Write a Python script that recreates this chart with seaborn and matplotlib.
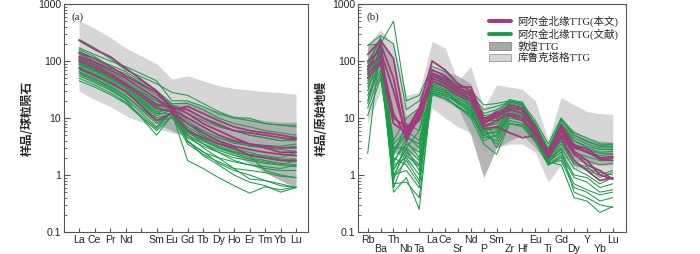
import numpy as np
import pandas as pd
import matplotlib
matplotlib.use("Agg")
import matplotlib.pyplot as plt
import seaborn as sns
from matplotlib.lines import Line2D
from matplotlib.patches import Patch

sns.set_style("ticks")
plt.rcParams['font.family'] = ['Liberation Sans', 'Noto Sans CJK SC']

# 稀土元素 (Pm 无数据)
ree = ['La', 'Ce', 'Pr', 'Nd', 'Pm', 'Sm', 'Eu', 'Gd', 'Tb', 'Dy', 'Ho', 'Er', 'Tm', 'Yb', 'Lu']
ree_used = ['La', 'Ce', 'Pr', 'Nd', 'Sm', 'Eu', 'Gd', 'Tb', 'Dy', 'Ho', 'Er', 'Tm', 'Yb', 'Lu']

# 库鲁克塔格 / 敦煌 包络 (REE)
kur_ree_hi = [500, 380, 260, 170, 90, 48, 55, 45, 37, 33, 31, 29, 28, 26]
kur_ree_lo = [30, 21, 16, 11, 6.5, 5.5, 5, 4, 3.2, 2.6, 2.2, 1.8, 1.6, 1.5]
dun_ree_hi = [130, 100, 75, 55, 28, 18, 20, 16, 13, 11, 10, 9, 8.5, 8.5]
dun_ree_lo = [55, 40, 30, 20, 8, 6, 4.5, 3.5, 2.8, 2.2, 1.6, 1.1, 0.8, 0.6]

ree_this = [
    [230, 160, 120, 75, 30, 15, 14, 10, 7.5, 6, 5.5, 5, 4.5, 4.2],
    [140, 110, 80, 55, 28, 14, 16, 12, 9, 7, 6, 5.5, 5, 4.5],
    [120, 95, 70, 50, 22, 14, 10, 7, 5, 4, 3.5, 3.2, 3, 3],
    [100, 75, 55, 38, 15, 13, 8, 5.5, 4, 3.2, 2.8, 2.5, 2.3, 2.2],
    [75, 55, 42, 30, 9, 12, 6, 4.5, 3.5, 3, 2.2, 2, 1.8, 1.8],
    [110, 85, 60, 40, 17, 16, 12, 8, 6, 4.5, 3.5, 3, 2.5, 2.5],
]
ree_lit = [
    [240, 170, 110, 70, 40, 28, 25, 18, 13, 10, 9, 8, 7.5, 7.5],
    [170, 130, 100, 80, 45, 20, 20, 16, 12, 10, 10, 8, 7.5, 7],
    [150, 110, 85, 65, 30, 18, 18, 14, 10, 8, 7, 6, 5.5, 5],
    [130, 100, 75, 60, 28, 17, 14, 10, 8, 6, 5, 4.5, 4, 4],
    [115, 90, 65, 45, 20, 16, 10, 7, 5, 4, 3.5, 3.3, 3.2, 3.5],
    [100, 80, 60, 42, 18, 15, 6, 4, 3, 2.5, 2.2, 2.0, 1.8, 1.7],
    [90, 70, 50, 35, 14, 13, 4, 2.5, 2.0, 1.7, 1.5, 1.4, 1.3, 1.5],
    [85, 65, 48, 33, 12, 16, 3.8, 2.6, 1.6, 1.2, 1.0, 0.8, 0.7, 0.6],
    [80, 60, 45, 30, 11, 14, 5, 3, 2.0, 1.3, 0.85, 0.8, 0.65, 0.6],
    [70, 55, 40, 28, 10, 12, 1.8, 1.3, 0.9, 0.65, 0.48, 0.62, 0.55, 0.62],
    [65, 50, 37, 25, 8, 12, 4, 2.2, 1.5, 1.0, 0.75, 0.65, 0.5, 0.6],
    [60, 45, 33, 22, 7, 13, 6, 3.5, 2.5, 1.8, 1.5, 1.3, 1.2, 1.2],
    [55, 42, 31, 21, 5, 11, 5.5, 4, 3, 2.4, 2.0, 1.8, 1.6, 1.5],
    [50, 38, 28, 19, 6.5, 13, 4.5, 3.2, 2.5, 2, 1.8, 1.6, 1.5, 1.8],
    [95, 70, 52, 37, 16, 15, 9, 6, 4.5, 3.8, 3.2, 3, 3, 3.2],
    [160, 120, 80, 55, 25, 16, 12, 9, 7, 6, 5, 4.5, 4, 4.5],
    [75, 58, 42, 30, 12, 12, 7, 4.8, 3.5, 2.8, 2.3, 2.2, 2.0, 2.5],
    [105, 78, 58, 40, 20, 14, 8, 5, 3.8, 2.9, 2.5, 2.1, 1.9, 1.9],
    [62, 48, 35, 24, 9, 10, 5, 3.5, 2.7, 2.2, 1.9, 1.7, 1.5, 1.4],
    [135, 100, 70, 50, 22, 13, 8, 6, 4.5, 3.6, 3.3, 3.0, 2.8, 2.6],
    [88, 68, 50, 34, 13, 14, 6.5, 4.2, 3.2, 2.6, 2.2, 1.2, 1.0, 0.9],
    [45, 35, 26, 18, 6, 11, 3.5, 2.3, 1.7, 1.3, 1.2, 1.1, 0.95, 0.9],
]

# 微量元素蛛网图
spider = ['Rb', 'Ba', 'Th', 'Nb', 'Ta', 'La', 'Ce', 'Sr', 'Nd', 'P',
          'Sm', 'Zr', 'Hf', 'Eu', 'Ti', 'Gd', 'Dy', 'Y', 'Yb', 'Lu']
kur_sp_hi = [200, 350, 200, 25, 28, 220, 170, 45, 80, 15, 38, 35, 32, 20, 4, 23, 17, 13, 12, 11.5]
kur_sp_lo = [8, 30, 3, 1.5, 1.5, 15, 10, 7, 5.5, 2.5, 3, 3.5, 3.5, 2.5, 0.75, 1.5, 1.3, 1.2, 1.1, 1.1]
dun_sp_hi = [180, 250, 100, 10, 15, 70, 65, 55, 40, 10, 15, 15, 14, 8, 3, 9, 6, 4.5, 4, 3.8]
dun_sp_lo = [20, 50, 2.5, 2, 3, 25, 20, 15, 5, 0.9, 3, 4, 5, 3, 1.5, 2, 1.8, 1.6, 1.5, 1.5]

sp_this = [
    [130, 230, 110, 6, 15, 100, 70, 40, 30, 8, 12, 14, 12, 6, 2.5, 7, 3.2, 2.5, 2.0, 2.0],
    [100, 150, 30, 5, 12, 60, 50, 35, 35, 10, 10, 15, 14, 7, 2.2, 6.5, 3, 2.6, 1.9, 1.8],
    [80, 120, 12, 4.5, 10, 55, 45, 30, 25, 7, 9, 12, 10, 5, 2.0, 5, 2.4, 1.5, 1.2, 0.85],
    [60, 100, 8, 5.5, 14, 50, 40, 28, 22, 9, 13, 11, 9, 5.5, 2.3, 6, 2.6, 1.8, 1.0, 0.85],
    [50, 90, 10, 7, 9, 45, 35, 25, 20, 6.5, 7, 5.5, 4.5, 5, 2.1, 4.5, 1.8, 1.2, 0.8, 0.9],
    [70, 200, 50, 4, 11, 70, 55, 33, 28, 8, 11, 17, 15, 6.5, 2.4, 7.5, 3.3, 2.9, 2.0, 2.1],
]
sp_lit = [
    [190, 200, 500, 20, 25, 80, 65, 40, 30, 17, 18, 20, 18, 9, 3.5, 10, 5.5, 4.5, 3.5, 3.5],
    [185, 280, 200, 14, 20, 70, 55, 38, 25, 14, 16, 19, 17, 8, 3, 9, 5, 4, 3.2, 3.2],
    [90, 250, 3, 3, 6, 60, 48, 30, 22, 10, 12, 18, 16, 7, 2.8, 8, 4.5, 3.5, 3, 3],
    [75, 180, 1.0, 2.5, 1.5, 50, 40, 25, 20, 8, 10, 16, 15, 6, 2.5, 7, 4, 3, 2.5, 2.6],
    [65, 140, 0.5, 0.9, 0.25, 40, 35, 22, 17, 7, 8, 15, 14, 5, 2.2, 6, 3, 2.5, 2.2, 2.3],
    [55, 130, 0.8, 4, 2, 35, 30, 20, 15, 6, 7, 14, 12, 5.5, 1.8, 4, 1.8, 1.2, 1.0, 1.2],
    [45, 110, 2.5, 5, 3, 30, 26, 18, 13, 5, 6, 13, 11, 5, 1.6, 3, 1.3, 1.0, 0.7, 0.9],
    [35, 90, 1.5, 2, 1, 28, 24, 15, 12, 4, 5, 12, 10, 4.5, 1.7, 2.5, 1.0, 0.9, 0.6, 0.7],
    [25, 70, 0.7, 0.75, 0.4, 27, 22, 16, 11, 5, 4, 10, 9, 4, 1.5, 2.2, 0.9, 0.75, 0.5, 0.55],
    [15, 60, 1.2, 3, 1.8, 32, 28, 20, 14, 6, 3.5, 9, 8, 4.2, 1.6, 1.8, 0.6, 0.5, 0.35, 0.4],
    [11, 50, 2, 1.5, 0.7, 38, 32, 22, 16, 7, 3, 8, 7.5, 4, 1.7, 1.5, 0.4, 0.35, 0.22, 0.28],
    [2.4, 200, 3.5, 6, 4, 45, 38, 25, 18, 8, 4.5, 11, 10, 5, 1.9, 2.8, 0.5, 0.4, 0.3, 0.27],
    [80, 260, 1.8, 3.5, 2.5, 55, 42, 28, 20, 9, 9, 20, 18, 6.5, 2.5, 6.5, 3.5, 2.8, 2.4, 2.4],
    [60, 220, 1.0, 1.2, 0.6, 42, 36, 24, 18, 7.5, 8, 17, 15, 6, 2.3, 5.5, 2.5, 2.1, 1.8, 1.8],
    [40, 160, 2.2, 8, 6, 33, 28, 20, 14, 6, 6.5, 14, 13, 5.5, 2.1, 5, 2.2, 1.8, 1.5, 1.6],
    [20, 120, 4, 10, 15, 30, 25, 19, 12, 5.5, 5.5, 12, 11, 4.5, 1.9, 4, 1.5, 1.3, 1.1, 1.0],
    [30, 150, 1.3, 2.8, 1.2, 48, 42, 26, 22, 10, 11, 16, 14, 6, 2.2, 8, 4, 3.2, 2.8, 2.8],
    [95, 240, 0.9, 1.8, 0.8, 62, 50, 32, 26, 12, 14, 19, 17, 7.5, 2.7, 9.5, 5, 3.8, 3.3, 3.4],
    [50, 170, 1.6, 4.5, 3.5, 36, 30, 18, 13, 4.5, 5, 11, 9, 4.5, 1.6, 3.5, 1.6, 1.4, 0.9, 1.1],
    [70, 190, 2.8, 5.5, 9, 58, 46, 30, 24, 11, 12, 21, 19, 7, 2.6, 7, 3.5, 2.5, 2.0, 2.0],
    [18, 100, 0.6, 2.2, 1.4, 26, 22, 16, 10, 3.5, 2.3, 8, 7, 3.8, 1.5, 2, 0.7, 0.55, 0.45, 0.5],
]

C_THIS = '#a3387f'
C_LIT = '#1a9c48'
C_DARK = '#a8a8a8'
C_LIGHT = '#d6d6d6'


def to_long(rows, elems, order):
    recs = []
    for i, r in enumerate(rows):
        for e, v in zip(elems, r):
            recs.append({'sample': i, 'x': order.index(e), 'val': v})
    return pd.DataFrame(recs)


def draw_panel(ax, elems, order, kur_hi, kur_lo, dun_hi, dun_lo, this, lit):
    xs = [order.index(e) for e in elems]
    ax.set_yscale('log')
    ax.fill_between(xs, kur_lo, kur_hi, color=C_LIGHT, lw=0, zorder=1)
    ax.fill_between(xs, dun_lo, dun_hi, color=C_DARK, lw=0, alpha=0.85, zorder=2)
    sns.lineplot(data=to_long(lit, elems, order), x='x', y='val', units='sample',
                 estimator=None, color=C_LIT, lw=0.75, ax=ax, zorder=3)
    sns.lineplot(data=to_long(this, elems, order), x='x', y='val', units='sample',
                 estimator=None, color=C_THIS, lw=1.3, ax=ax, zorder=4)
    ax.set_ylim(0.1, 1000)
    ax.set_xlabel('')
    ax.set_yticks([0.1, 1, 10, 100, 1000])
    ax.set_yticklabels(['0.1', '1', '10', '100', '1000'])
    ax.tick_params(axis='both', which='both', direction='in', color='#555555',
                   labelsize=7.6, pad=2)
    ax.tick_params(axis='y', which='major', length=4)
    ax.tick_params(axis='y', which='minor', length=2)
    ax.tick_params(axis='x', length=3)
    for s in ax.spines.values():
        s.set_color('#555555')
        s.set_linewidth(0.8)


fig = plt.figure(figsize=(7.0, 2.54), dpi=100)
ax1 = fig.add_axes([64 / 700, 22 / 254, 244 / 700, 228 / 254])
ax2 = fig.add_axes([358 / 700, 22 / 254, 268 / 700, 228 / 254])

draw_panel(ax1, ree_used, ree, kur_ree_hi, kur_ree_lo, dun_ree_hi, dun_ree_lo, ree_this, ree_lit)
ax1.set_xlim(-0.97, 14.77)
ax1.set_xticks(range(len(ree)))
ax1.set_xticklabels([e if e != 'Pm' else '' for e in ree])
ax1.set_ylabel('样品/球粒陨石', fontsize=8.5, labelpad=3, fontweight='bold',
               family=['Noto Sans CJK SC', 'DejaVu Sans'])
ax1.text(0.03, 0.965, '(a)', transform=ax1.transAxes, ha='left', va='top',
         fontsize=8, family=['Liberation Serif'])

draw_panel(ax2, spider, spider, kur_sp_hi, kur_sp_lo, dun_sp_hi, dun_sp_lo, sp_this, sp_lit)
ax2.set_xlim(-0.75, 20.03)
ax2.set_xticks(range(len(spider)))
down = {'Ba', 'Nb', 'Ta', 'Sr', 'P', 'Zr', 'Hf', 'Ti', 'Dy', 'Yb'}
ax2.set_xticklabels([('\n' + e) if e in down else e for e in spider], linespacing=0.85)
ax2.set_ylabel('样品/原始地幔', fontsize=8.5, labelpad=3, fontweight='bold',
               family=['Noto Sans CJK SC', 'DejaVu Sans'])
ax2.text(0.03, 0.965, '(b)', transform=ax2.transAxes, ha='left', va='top',
         fontsize=8, family=['Liberation Serif'])

handles = [Line2D([0], [0], color=C_THIS, lw=2.8),
           Line2D([0], [0], color=C_LIT, lw=2.8),
           Patch(facecolor=C_DARK, edgecolor='#888888', lw=0.6),
           Patch(facecolor=C_LIGHT, edgecolor='#999999', lw=0.6)]
labels = ['阿尔金北缘TTG(本文)', '阿尔金北缘TTG(文献)', '敦煌TTG', '库鲁克塔格TTG']
ax2.legend(handles, labels, loc='upper right', bbox_to_anchor=(0.995, 0.975),
           frameon=False, handlelength=2.1, handleheight=0.75, labelspacing=0.12,
           handletextpad=0.6, borderaxespad=0.2,
           prop={'family': ['Liberation Serif', 'Noto Sans CJK SC'], 'size': 7.6})

fig.savefig('out.png', dpi=100)
